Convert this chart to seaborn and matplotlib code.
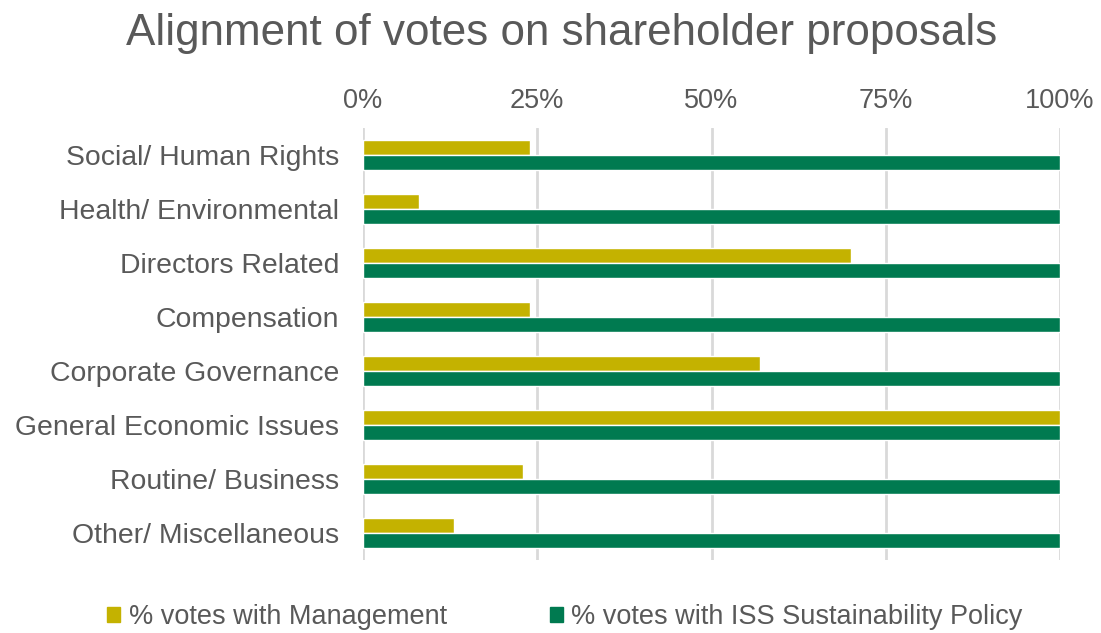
import pandas as pd
import seaborn as sns
import matplotlib.pyplot as plt
from matplotlib.ticker import PercentFormatter

categories = ["Social/ Human Rights", "Health/ Environmental", "Directors Related",
              "Compensation", "Corporate Governance", "General Economic Issues",
              "Routine/ Business", "Other/ Miscellaneous"]
management = [24, 8, 70, 24, 57, 100, 23, 13]
iss_policy = [100, 100, 100, 100, 100, 100, 100, 100]
series = ["% votes with Management", "% votes with ISS Sustainability Policy"]
colors = ["#C4B200", "#007A50"]

df = pd.DataFrame({"category": categories * 2,
                   "value": management + iss_policy,
                   "series": [series[0]] * len(categories) + [series[1]] * len(categories)})

sns.set_style("white")
plt.rcParams['font.family'] = ['Liberation Sans', 'DejaVu Sans']

fig = plt.figure(figsize=(11.01, 6.33), dpi=100)
ax = fig.add_axes([0.3297, 0.1153, 0.6331, 0.6825])

sns.barplot(data=df, x="value", y="category", hue="series", orient="h",
            palette=colors, width=0.54, ax=ax, legend=False, saturation=1)

ax.set_xlim(0, 100)
ax.set_ylim(7.5, -0.5)
ax.set_xticks([0, 25, 50, 75, 100])
ax.xaxis.set_major_formatter(PercentFormatter(decimals=0))
ax.xaxis.tick_top()
ax.tick_params(axis='both', length=0, colors="#595959")
ax.tick_params(axis='y', pad=17, labelsize=20.4)
ax.tick_params(axis='x', pad=10, labelsize=19.5)
ax.grid(axis='x', color="#D9D9D9", linewidth=2)
ax.set_axisbelow(True)
for s in ax.spines.values():
    s.set_visible(False)
ax.set_xlabel("")
ax.set_ylabel("")

fig.text(0.51, 0.947, "Alignment of votes on shareholder proposals", ha="center", va="center",
         fontsize=31.7, color="#595959")

handles = [plt.Rectangle((0, 0), 1, 1, color=c) for c in colors]
fig.legend(handles, series, loc="center", bbox_to_anchor=(0.513, 0.025), ncol=2, frameon=False,
           fontsize=19.5, labelcolor="#595959", handlelength=0.5, handleheight=0.5,
           handletextpad=0.3, columnspacing=3.8)

plt.savefig("out.png", dpi=100)
